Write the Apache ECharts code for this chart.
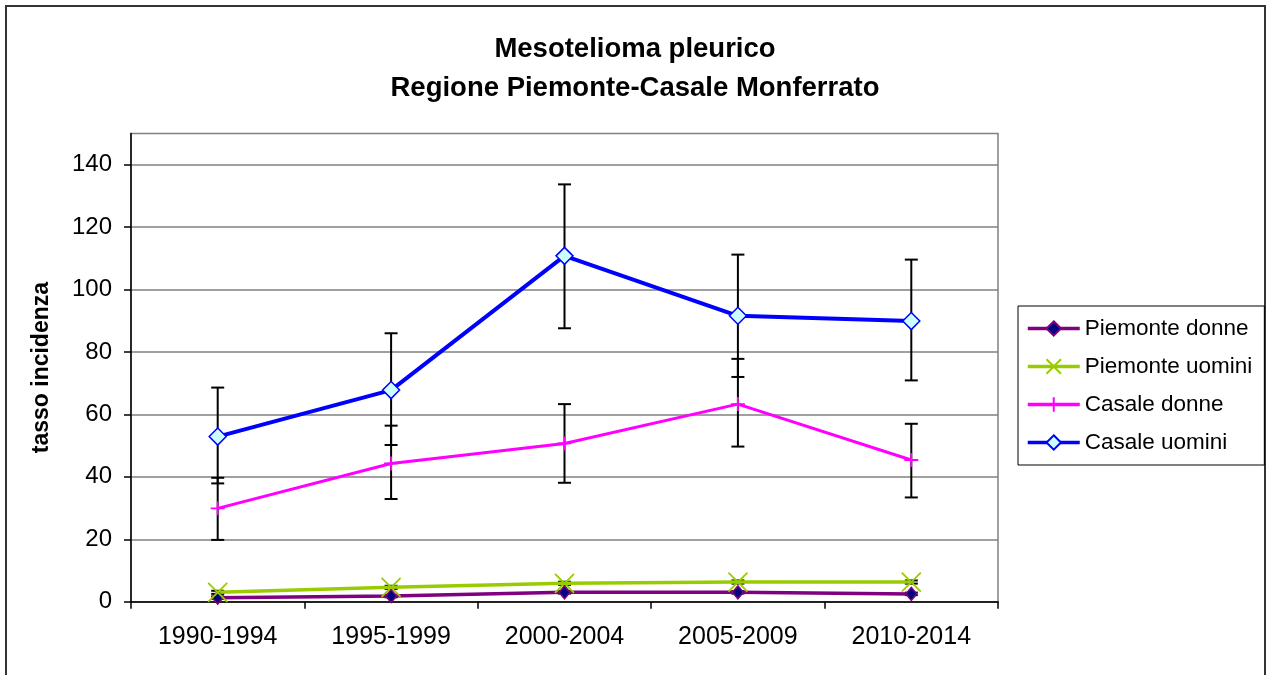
<!DOCTYPE html>
<html>
<head>
<meta charset="utf-8">
<title>Mesotelioma pleurico</title>
<script src="https://cdn.jsdelivr.net/npm/echarts@6/dist/echarts.min.js"></script>
<style>
  html, body { margin: 0; padding: 0; background: #fff; }
  #chart { width: 1270px; height: 675px; }
</style>
</head>
<body>
<div id="chart"></div>
<script>
  var periods = ['1990-1994', '1995-1999', '2000-2004', '2005-2009', '2010-2014'];

  var piemonteDonne = [1.3, 1.8, 3.0, 3.0, 2.5];
  var piemonteUomini = [3.0, 4.6, 5.9, 6.3, 6.3];
  var casaleDonne = [29.9, 44.3, 50.7, 63.3, 45.4];
  var casaleUomini = [52.9, 67.8, 110.8, 91.6, 89.9];

  // limiti di confidenza (barre di errore)
  var piemonteDonneLow = [0.9, 1.4, 2.6, 2.6, 2.1];
  var piemonteDonneHigh = [1.7, 2.2, 3.4, 3.4, 2.9];
  var piemonteUominiLow = [2.5, 4.1, 5.4, 5.8, 5.8];
  var piemonteUominiHigh = [3.5, 5.1, 6.4, 6.8, 6.8];
  var casaleDonneLow = [19.8, 32.9, 38.1, 49.7, 33.4];
  var casaleDonneHigh = [39.7, 56.4, 63.3, 77.8, 57.0];
  var casaleUominiLow = [37.9, 50.2, 87.6, 72.0, 70.9];
  var casaleUominiHigh = [68.6, 86.0, 133.7, 111.2, 109.6];

  var yTicks = [0, 20, 40, 60, 80, 100, 120, 140];

  var errorData = [];
  function addBars (low, high) {
    for (var i = 0; i < periods.length; i++) {
      errorData.push([i, low[i], high[i]]);
    }
  }
  addBars(piemonteDonneLow, piemonteDonneHigh);
  addBars(piemonteUominiLow, piemonteUominiHigh);
  addBars(casaleDonneLow, casaleDonneHigh);
  addBars(casaleUominiLow, casaleUominiHigh);

  function errorBarItem (params, api) {
    var x = api.value(0);
    var lo = api.coord([x, api.value(1)]);
    var hi = api.coord([x, api.value(2)]);
    var half = 6.5;
    var style = { stroke: '#000', lineWidth: 2 };
    return {
      type: 'group',
      children: [
        { type: 'line', shape: { x1: lo[0], y1: lo[1], x2: hi[0], y2: hi[1] }, style: style },
        { type: 'line', shape: { x1: lo[0] - half, y1: lo[1], x2: lo[0] + half, y2: lo[1] }, style: style },
        { type: 'line', shape: { x1: hi[0] - half, y1: hi[1], x2: hi[0] + half, y2: hi[1] }, style: style }
      ]
    };
  }

  var font = 'Liberation Sans, Arial, sans-serif';
  var chart = echarts.init(document.getElementById('chart'));

  var option = {
    animation: false,
    backgroundColor: '#fff',
    textStyle: { fontFamily: font },
    graphic: [{
      type: 'rect',
      shape: { x: 6, y: 6, width: 1259, height: 700 },
      style: { fill: null, stroke: '#333', lineWidth: 2 },
      silent: true
    }],
    title: {
      text: 'Mesotelioma pleurico\nRegione Piemonte-Casale Monferrato',
      left: 'center',
      top: 25,
      textStyle: { fontFamily: font, fontSize: 27.5, fontWeight: 'bold', color: '#000', lineHeight: 39 }
    },
    legend: {
      orient: 'vertical',
      left: 1018,
      top: 306,
      data: ['Piemonte donne', 'Piemonte uomini', 'Casale donne', 'Casale uomini'],
      borderColor: '#000',
      borderWidth: 1,
      padding: [11, 12, 11, 8],
      itemWidth: 52,
      itemHeight: 18,
      itemGap: 15,
      lineStyle: { width: 3.5 },
      textStyle: { fontFamily: font, fontSize: 22.5, color: '#000', lineHeight: 22 }
    },
    grid: {
      left: 131,
      right: 272,
      top: 133.5,
      bottom: 73.3,
      show: true,
      borderColor: '#808080',
      borderWidth: 1.5,
      backgroundColor: '#fff'
    },
    xAxis: {
      type: 'category',
      data: periods,
      boundaryGap: true,
      axisLine: { lineStyle: { color: '#000', width: 1.5 } },
      axisTick: { show: true, length: 7, lineStyle: { color: '#000', width: 1.5 } },
      axisLabel: { fontFamily: font, fontSize: 25, color: '#000', margin: 23 },
      splitLine: { show: false }
    },
    yAxis: {
      type: 'value',
      min: 0,
      max: 150,
      interval: 20,
      name: 'tasso incidenza',
      nameLocation: 'middle',
      nameGap: 78,
      nameTextStyle: { fontFamily: font, fontSize: 23, fontWeight: 'bold', color: '#000' },
      axisLine: { show: true, lineStyle: { color: '#000', width: 1.5 } },
      axisTick: { show: true, length: 7, customValues: yTicks, lineStyle: { color: '#000', width: 1.5 } },
      axisLabel: {
        fontFamily: font, fontSize: 24, color: '#000', margin: 19,
        customValues: yTicks
      },
      splitLine: { show: true, lineStyle: { color: '#808080', width: 1.5 } }
    },
    series: [
      {
        name: 'Piemonte donne',
        type: 'line',
        data: piemonteDonne,
        z: 3,
        symbol: 'diamond',
        symbolSize: [11, 13],
        lineStyle: { color: '#800080', width: 3.5 },
        itemStyle: { color: '#000080', borderColor: '#800080', borderWidth: 1.5 }
      },
      {
        name: 'Piemonte uomini',
        type: 'line',
        data: piemonteUomini,
        z: 3,
        symbol: 'path://M0,0L10,10M10,0L0,10',
        symbolSize: 19,
        lineStyle: { color: '#99CC00', width: 3.5 },
        itemStyle: { color: 'rgba(0,0,0,0)', borderColor: '#99CC00', borderWidth: 1.8 }
      },
      {
        name: 'Casale donne',
        type: 'line',
        data: casaleDonne,
        z: 3,
        symbol: 'path://M5,0L5,10M0,5L10,5',
        symbolSize: 14,
        lineStyle: { color: '#FF00FF', width: 3 },
        itemStyle: { color: 'rgba(0,0,0,0)', borderColor: '#FF00FF', borderWidth: 1.8 }
      },
      {
        name: 'Casale uomini',
        type: 'line',
        data: casaleUomini,
        z: 4,
        symbol: 'diamond',
        symbolSize: 17,
        lineStyle: { color: '#0000FF', width: 4 },
        itemStyle: { color: '#CCFFFF', borderColor: '#0000FF', borderWidth: 1.5 }
      },
      {
        name: 'errori',
        type: 'custom',
        z: 2,
        renderItem: errorBarItem,
        encode: { x: 0, y: [1, 2] },
        data: errorData
      }
    ]
  };

  chart.setOption(option);
</script>
</body>
</html>
